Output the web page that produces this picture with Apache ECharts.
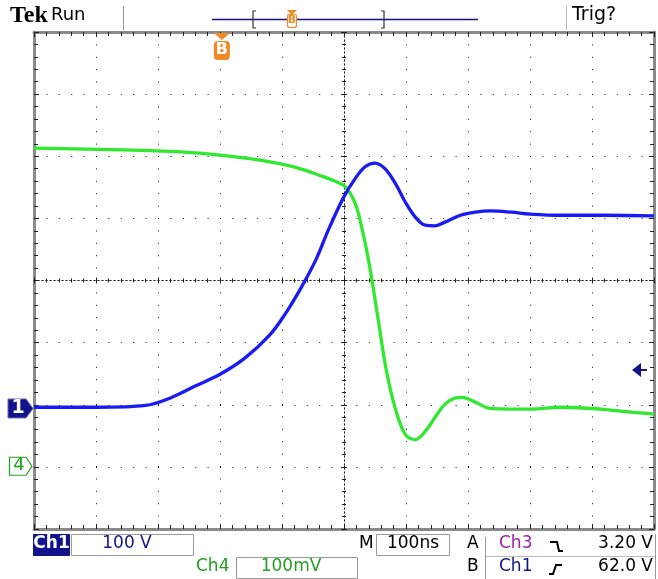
<!DOCTYPE html>
<html><head><meta charset="utf-8">
<script src="https://cdn.jsdelivr.net/npm/echarts@6/dist/echarts.min.js"></script>
<style>html,body{margin:0;padding:0;background:#fff}#c{width:658px;height:579px}</style>
</head><body><div id="c"></div>
<script>
// ---- Data (time in ns, trigger centred at 0) ----
const ch1TimeNs = [-500,-400,-320,-280,-240,-200,-160,-120,-95,-70,-45,-25,0,18,34,50,66,83,99,115,131,147,163,188,212,236,270,300,350,420,500];
const ch1Volts  = [2,2,5,17,36,55,81,118,152,193,240,288,341,370,389,395,386,362,332,308,295,294,300,311,316,318,316,313,311,311,310];
const ch4TimeNs = [-500,-395,-314,-233,-152,-104,-71,-39,-15,2,18,29,42,55,68,83,99,115,131,147,163,180,191,212,236,269,301,350,414,463,500];
const ch4mV     = [512,510,508,504,495,487,479,468,459,450,423,383,318,237,156,92,51,43,56,79,100,110,111,103,93,92,92,95,92,87,84];
// channel settings (per division) and ground positions (divisions from centre)
const CH1_PER_DIV = 100, CH1_POS = -2.06;
const CH4_PER_DIV = 100, CH4_POS = -2.99;
const TRIG_LEVEL_V = 62;
const TRIG_POS_NS = -197;

const FONT = 'DejaVu Sans';
const dotStyle = {color:'#111', width:1, type:[1,11.4]};
const blue = '#1a1af2', green = '#2fe82f', navy = '#12128a', dgreen = '#22a022', orange = '#f08a24';

function borderX(pos){return {type:'value',min:-500,max:500,interval:100,position:pos,
  axisLine:{onZero:false,show:true,lineStyle:{color:'#8a8a8a',width:3}},
  axisTick:{show:true,inside:true,length:5,lineStyle:{color:'#222'}},
  minorTick:{show:true,splitNumber:5,length:4,lineStyle:{color:'#222'}},
  axisLabel:{show:false},splitLine:{show:pos==='bottom',lineStyle:dotStyle}};}
function borderY(pos){return {type:'value',min:-4,max:4,interval:1,position:pos,
  axisLine:{onZero:false,show:true,lineStyle:{color:'#8a8a8a',width:3}},
  axisTick:{show:true,inside:true,length:5,lineStyle:{color:'#222'}},
  minorTick:{show:true,splitNumber:5,length:4,lineStyle:{color:'#222'}},
  axisLabel:{show:false},splitLine:{show:pos==='left',lineStyle:dotStyle}};}
function centreX(pos){return {type:'value',min:-500,max:500,interval:100,position:pos,
  axisLine:{onZero:true,onZeroAxisIndex:0,show:true,lineStyle:{color:'#222',width:1,type:[1,3]}},
  axisTick:{show:true,inside:true,length:3,lineStyle:{color:'#222'}},
  minorTick:{show:true,splitNumber:5,length:2,lineStyle:{color:'#222'}},
  axisLabel:{show:false},splitLine:{show:false}};}
function centreY(pos){return {type:'value',min:-4,max:4,interval:1,position:pos,
  axisLine:{onZero:true,onZeroAxisIndex:0,show:true,lineStyle:{color:'#222',width:1,type:[1,3]}},
  axisTick:{show:true,inside:true,length:3,lineStyle:{color:'#222'}},
  minorTick:{show:true,splitNumber:5,length:2,lineStyle:{color:'#222'}},
  axisLabel:{show:false},splitLine:{show:false}};}

const chart = echarts.init(document.getElementById('c'), null, {renderer:'canvas'});
const ch1Data = ch1TimeNs.map((t,i)=>[t, ch1Volts[i]/CH1_PER_DIV + CH1_POS]);
const ch4Data = ch4TimeNs.map((t,i)=>[t, ch4mV[i]/CH4_PER_DIV + CH4_POS]);

chart.setOption({
  animation:false,
  backgroundColor:'#fff',
  grid:{left:34,top:32,width:620,height:497,containLabel:false},
  xAxis:[borderX('bottom'),borderX('top'),centreX('bottom'),centreX('top')],
  yAxis:[borderY('left'),borderY('right'),centreY('left'),centreY('right')],
  series:[
    {type:'line',name:'Ch4',xAxisIndex:0,yAxisIndex:0,data:ch4Data,showSymbol:false,smooth:0.35,
     lineStyle:{color:green,width:3.3},z:3},
    {type:'line',name:'Ch1',xAxisIndex:0,yAxisIndex:0,data:ch1Data,showSymbol:false,smooth:0.35,
     lineStyle:{color:blue,width:3.3},z:4}
  ]
});

const p1 = chart.convertToPixel({gridIndex:0},[0, CH1_POS]);
const p4 = chart.convertToPixel({gridIndex:0},[0, CH4_POS]);
const pT = chart.convertToPixel({gridIndex:0},[500, TRIG_LEVEL_V/CH1_PER_DIV + CH1_POS]);
const pB = chart.convertToPixel({gridIndex:0},[TRIG_POS_NS, 4]);

function txt(x,y,s,fill,size,weight,align,family){return {type:'text',x:x,y:y,z:20,zlevel:0,
  style:{text:s,fill:fill,font:(weight||'normal')+' '+size+'px "'+(family||FONT)+'"',align:align||'left',verticalAlign:'top'}};}
function line(x1,y1,x2,y2,c,w){return {type:'line',z:10,shape:{x1,y1,x2,y2},style:{stroke:c,lineWidth:w||1}};}
function box(x,y,w,h,fill,stroke){return {type:'rect',z:9,shape:{x,y,width:w,height:h},style:{fill:fill,stroke:stroke,lineWidth:1}};}

const g = [];
// header
g.push(txt(10,4,'Tek','#000',24,'bold','left','Liberation Serif'));
g.push(txt(51,6,'Run','#000',18));
g.push(line(123.5,6,123.5,30,'#999',1));
g.push(line(212,19.5,478,19.5,navy,1.5));
g.push({type:'polyline',z:10,shape:{points:[[256,11],[253,11],[253,28],[256,28]]},style:{stroke:'#333',lineWidth:1.2,fill:null}});
g.push({type:'polyline',z:10,shape:{points:[[381,11],[384,11],[384,28],[381,28]]},style:{stroke:'#333',lineWidth:1.2,fill:null}});
g.push({type:'polygon',z:11,shape:{points:[[287,10],[297,10],[292,15]]},style:{fill:orange}});
g.push({type:'rect',z:11,shape:{x:287.5,y:14.5,width:9,height:13,r:2},style:{fill:'#fff',stroke:orange,lineWidth:1.2}});
g.push(txt(292,15,'B',orange,11,'bold','center'));
g.push(line(566.5,6,566.5,30,'#bbb',1));
g.push(txt(572,6,'Trig?','#000',19));
// B trigger marker on graticule
g.push({type:'polygon',z:11,shape:{points:[[pB[0]-8,pB[1]+1],[pB[0]+8,pB[1]+1],[pB[0],pB[1]+8]]},style:{fill:orange}});
g.push({type:'rect',z:11,shape:{x:pB[0]-8,y:pB[1]+9,width:16,height:19,r:4},style:{fill:orange}});
g.push(txt(pB[0],pB[1]+10,'B','#fff',16,'bold','center'));
// ground markers
g.push({type:'polygon',z:11,shape:{points:[[8,p1[1]-9.5],[26,p1[1]-9.5],[33,p1[1]],[26,p1[1]+9.5],[8,p1[1]+9.5]]},style:{fill:navy,stroke:'#6a6ab8',lineWidth:1}});
g.push(txt(18,p1[1]-10,'1','#fff',19,'bold','center'));
g.push({type:'polygon',z:11,shape:{points:[[9.5,p4[1]-9],[26,p4[1]-9],[32,p4[1]],[26,p4[1]+9],[9.5,p4[1]+9]]},style:{fill:'#fff',stroke:dgreen,lineWidth:1.2}});
g.push(txt(19,p4[1]-10,'4',dgreen,18,'normal','center'));
// trigger level arrow
g.push({type:'polygon',z:11,shape:{points:[[pT[0]-22,pT[1]],[pT[0]-13,pT[1]-7],[pT[0]-13,pT[1]+7]]},style:{fill:navy}});
g.push(line(pT[0]-14,pT[1],pT[0]-7,pT[1],navy,2));
// footer
g.push(box(33.5,534.5,36,21,navy,navy));
g.push(txt(51.5,535,'Ch1','#fff',17,'bold','center'));
g.push(box(71.5,534.5,122,21,'#fff','#9a9a9a'));
g.push(txt(127,535,'100 V',navy,17,'normal','center'));
g.push(txt(196,558,'Ch4',dgreen,17,'normal'));
g.push(box(236.5,557.5,121,21,'#fff','#9a9a9a'));
g.push(txt(291,558,'100mV',dgreen,17,'normal','center'));
g.push(txt(359,535,'M','#000',17,'normal'));
g.push(box(376.5,534.5,73,21,'#fff','#9a9a9a'));
g.push(txt(413,535,'100ns','#000',17,'normal','center'));
g.push(txt(467,535,'A','#000',17,'normal'));
g.push(txt(467,558,'B','#000',17,'normal'));
g.push(line(485.5,537,485.5,579,'#999',1));
g.push(line(486,556.5,656,556.5,'#bbb',1));
g.push(line(655.5,534,655.5,579,'#999',1));
g.push(txt(499,535,'Ch3','#a020a8',17,'normal'));
g.push(txt(499,558,'Ch1',navy,17,'normal'));
g.push({type:'polyline',z:10,shape:{points:[[550,542],[557,542],[559,551],[563,551]]},style:{stroke:'#000',lineWidth:2,fill:null}});
g.push({type:'polyline',z:10,shape:{points:[[549,574],[553,574],[556,565],[562,565]]},style:{stroke:'#000',lineWidth:2,fill:null}});
g.push(txt(653,535,'3.20 V','#000',17,'normal','right'));
g.push(txt(653,558,'62.0 V','#000',17,'normal','right'));
chart.setOption({graphic:g});
</script></body></html>
